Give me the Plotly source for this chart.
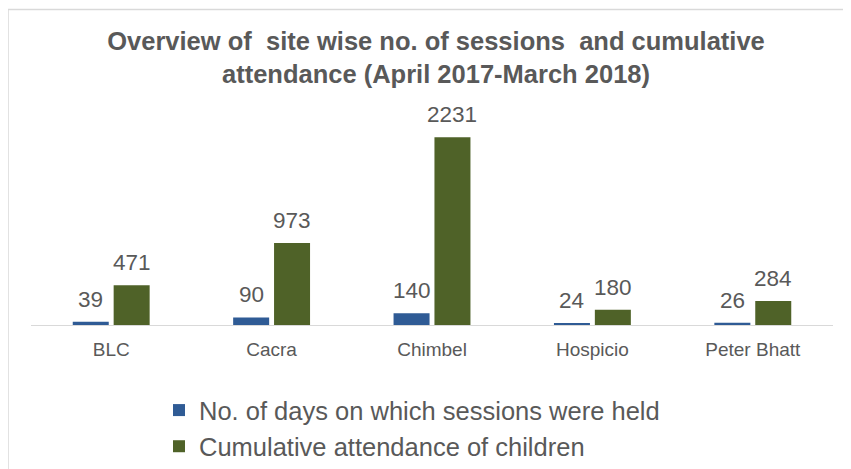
import plotly.graph_objects as go

sites = ["BLC", "Cacra", "Chimbel", "Hospicio", "Peter Bhatt"]
sessions = [39, 90, 140, 24, 26]
attendance = [471, 973, 2231, 180, 284]
series_names = ["No. of days on which sessions were held", "Cumulative attendance of children"]
colors = ["#2F5B95", "#4F6228"]

# page body has an 8px margin; figure coordinates are screen - 8
W, H = 843, 461
L, R = 23, 825
T, B = 115, 317
pw, ph = R - L, B - T

def px(x):
    return (x - L) / pw

def py(y):
    return (B - y) / ph

FONT = "Liberation Sans, Arial, sans-serif"
BARGAP = 0.49
slot = pw / len(sites) * (1 - BARGAP) / 2

fig = go.Figure()
annotations = []
for i, (name, vals, c) in enumerate(zip(series_names, [sessions, attendance], colors)):
    fig.add_trace(go.Bar(
        x=sites, y=vals, name=name, marker=dict(color=c, line=dict(width=0)),
    ))
    shift = (i - 0.5) * slot
    for s, v in zip(sites, vals):
        annotations.append(dict(
            x=s, y=v, xref="x", yref="y", text=str(v), showarrow=False,
            xanchor="center", yanchor="bottom", xshift=shift, yshift=8,
            font=dict(size=22.5, color="#595959", family=FONT),
        ))

fig.update_layout(
    width=W, height=H,
    margin=dict(l=L, r=W - R, t=T, b=H - B, pad=0, autoexpand=False),
    paper_bgcolor="white", plot_bgcolor="white",
    barmode="group", bargap=BARGAP, bargroupgap=0.12,
    font=dict(family=FONT, color="#595959"),
    title=dict(
        text="<b>Overview of  site wise no. of sessions  and cumulative<br>attendance (April 2017-March 2018)</b>",
        x=(428 - L) / pw, xanchor="center", xref="paper", y=1 - 41.5 / H, yanchor="middle",
        font=dict(size=25.5, color="#595959", family=FONT),
    ),
    xaxis=dict(showline=True, linecolor="#D9D9D9", linewidth=1, ticks="", automargin=False,
               ticklabelstandoff=7,
               tickfont=dict(size=19, color="#595959"), showgrid=False),
    yaxis=dict(visible=False, range=[0, 2400], showgrid=False, zeroline=False, automargin=False),
    legend=dict(orientation="v", x=px(151), xanchor="left", y=py(379), yanchor="top",
                font=dict(size=25.5, color="#595959"), tracegroupgap=0,
                itemwidth=30, bgcolor="rgba(0,0,0,0)"),
    showlegend=True,
    annotations=annotations,
    shapes=[dict(type="rect", xref="paper", yref="paper",
                 x0=px(0), x1=px(870), y0=py(1.5), y1=py(490),
                 line=dict(color="#D9D9D9", width=1.5), fillcolor="rgba(0,0,0,0)", layer="below")],
)
fig.write_html("out.html")
